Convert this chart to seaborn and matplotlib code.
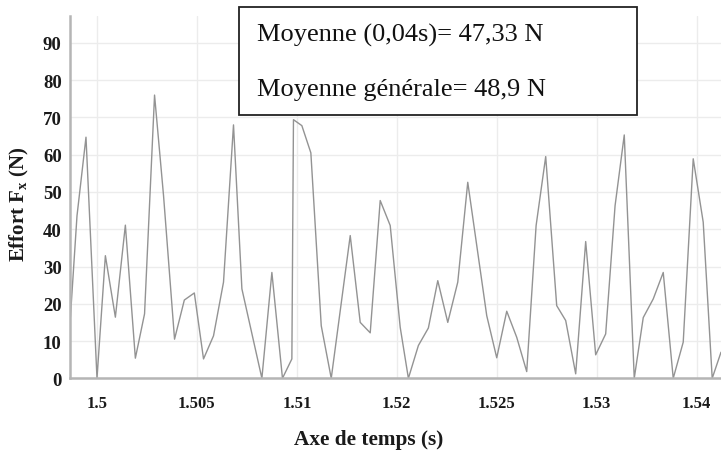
import matplotlib
matplotlib.use("Agg")
import matplotlib.pyplot as plt
from matplotlib.patches import Rectangle
from matplotlib.ticker import FixedLocator, FixedFormatter
import pandas as pd
import seaborn as sns

# Cutting force Fx sampled over time
temps = [1.49867, 1.49900, 1.49945, 1.50000, 1.50042, 1.50092, 1.50142, 1.50192,
         1.50238, 1.50288, 1.50333, 1.50388, 1.50437, 1.50487, 1.50533, 1.50583,
         1.50633, 1.50683, 1.50725, 1.50825, 1.50875, 1.50928, 1.50975, 1.50983,
         1.51025, 1.51070, 1.51122, 1.51172, 1.51267, 1.51317, 1.51367, 1.51417,
         1.51467, 1.51517, 1.51558, 1.51608, 1.51658, 1.51705, 1.51755, 1.51805,
         1.51855, 1.51950, 1.52000, 1.52050, 1.52100, 1.52150, 1.52197, 1.52245,
         1.52300, 1.52345, 1.52395, 1.52445, 1.52495, 1.52545, 1.52592, 1.52638,
         1.52688, 1.52733, 1.52783, 1.52833, 1.52883, 1.52933, 1.52983, 1.53033,
         1.53078, 1.53122]
effort = [16.4, 43.6, 64.7, 0.0, 32.9, 16.4, 41.1, 5.4,
          17.3, 76.0, 49.0, 10.5, 21.0, 22.9, 5.2, 11.4,
          25.8, 68.0, 24.0, 0.0, 28.4, 0.0, 5.2, 69.4,
          67.8, 60.5, 14.1, 0.0, 38.3, 15.0, 12.2, 47.7,
          41.0, 13.7, 0.0, 8.8, 13.5, 26.2, 15.0, 25.8,
          52.6, 16.8, 5.5, 18.0, 11.0, 1.8, 41.0, 59.5,
          19.5, 15.5, 1.2, 36.7, 6.3, 11.9, 46.3, 65.3,
          0.0, 16.3, 21.3, 28.4, 0.0, 9.7, 58.9, 41.9,
          0.0, 7.0]

x_tick_pos = [1.500, 1.505, 1.510, 1.515, 1.520, 1.525, 1.530]
x_tick_labels = ["1.5", "1.505", "1.51", "1.52", "1.525", "1.53", "1.54"]
y_ticks = [0, 10, 20, 30, 40, 50, 60, 70, 80, 90]

moyenne_fenetre = "47,33"
moyenne_generale = "48,9"

sns.set_theme(style="whitegrid")
plt.rcParams["font.family"] = ["Liberation Serif", "DejaVu Serif"]
plt.rcParams["mathtext.fontset"] = "custom"
plt.rcParams["mathtext.rm"] = "Liberation Serif"
plt.rcParams["mathtext.bf"] = "Liberation Serif:bold"

df = pd.DataFrame({"temps": temps, "effort": effort})

fig = plt.figure(figsize=(7.21, 4.52), dpi=100)
ax = fig.add_axes([70 / 721, 1 - 379.3 / 452, 651 / 721, (379.3 - 16.7) / 452])
ax.set_facecolor("white")

sns.lineplot(data=df, x="temps", y="effort", ax=ax, color="#939393",
             linewidth=1.0, estimator=None, sort=False)

ax.set_xlim(1.49865, 1.53122)
ax.set_ylim(0, 97.3)
ax.xaxis.set_major_locator(FixedLocator(x_tick_pos))
ax.xaxis.set_major_formatter(FixedFormatter(x_tick_labels))
ax.set_yticks(y_ticks)

ax.grid(True, color="#ececec", linewidth=1.0)
for side in ["top", "right"]:
    ax.spines[side].set_visible(False)
for side in ["left", "bottom"]:
    ax.spines[side].set_visible(True)
    ax.spines[side].set_color("#b5b5b5")
    ax.spines[side].set_linewidth(1.8)

ax.tick_params(axis="both", direction="in", length=3, color="#b5b5b5", width=0.8)
ax.tick_params(axis="y", labelsize=13.5, pad=6)
ax.tick_params(axis="x", labelsize=12, pad=12)
for lab in ax.get_yticklabels() + ax.get_xticklabels():
    lab.set_fontweight("bold")
    lab.set_color("#1a1a1a")

ax.set_xlabel("Axe de temps (s)", fontsize=15.3, fontweight="bold", color="#1a1a1a")
ax.set_ylabel(r"Effort F$_{\mathbf{x}}$ (N)", fontsize=15, fontweight="bold",
              color="#1a1a1a")
ax.xaxis.set_label_coords(0.459, -0.167)
ax.xaxis.label.set_va("center")
ax.yaxis.set_label_coords(-0.077, 0.482)
ax.yaxis.label.set_va("center")

# Annotation box with the mean forces
fig.patches.append(Rectangle((239 / 721, 1 - 116 / 452), 398 / 721, 108 / 452,
                             transform=fig.transFigure, facecolor="white",
                             edgecolor="#222222", linewidth=1.3, zorder=5))
fig.text(257 / 721, 1 - 41.7 / 452, f"Moyenne (0,04s)= {moyenne_fenetre} N",
         fontsize=19, va="baseline", ha="left", color="#111111", zorder=6)
fig.text(257 / 721, 1 - 96 / 452, f"Moyenne générale= {moyenne_generale} N",
         fontsize=19, va="baseline", ha="left", color="#111111", zorder=6)

fig.savefig("out.png", dpi=100)
